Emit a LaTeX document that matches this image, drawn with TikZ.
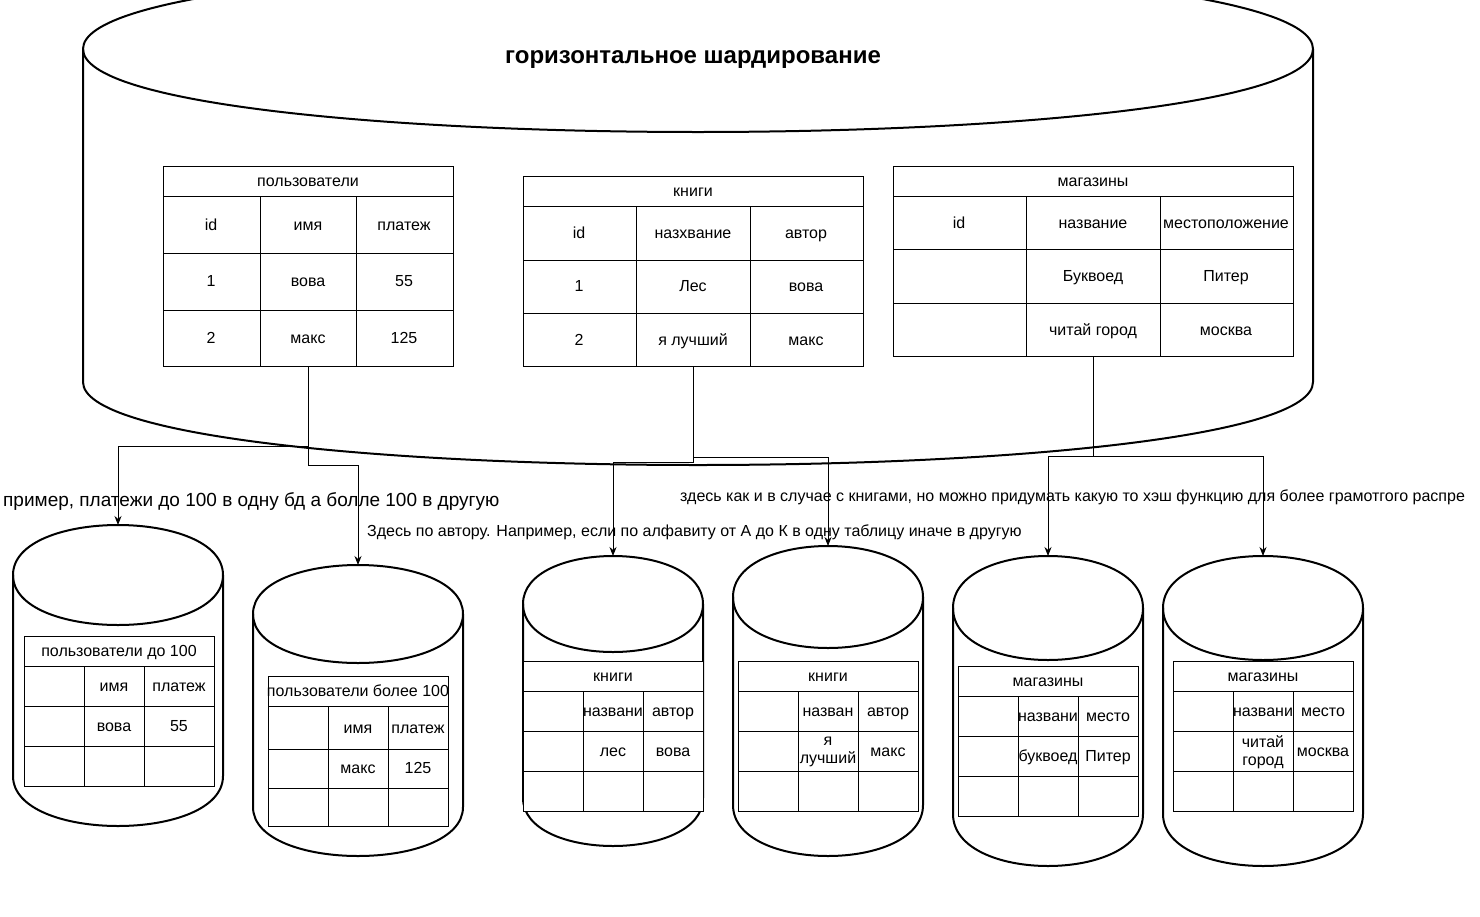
\documentclass[tikz,border=0pt]{standalone}
\usepackage{fontspec}
\setmainfont{Liberation Sans}
\usetikzlibrary{arrows.meta}

\tikzset{
  cyl/.style={draw=black, line width=2pt, fill=white},
  tbl/.style={draw=black, line width=1pt, fill=white, inner sep=0pt},
  grid/.style={draw=black, line width=1pt},
  cell/.style={font=\fontsize{16}{18}\selectfont, inner sep=0pt, align=center, text height=12.4pt, text depth=4pt},
  cellpair/.style={font=\fontsize{16}{18}\selectfont, inner sep=0pt, align=center},
  note/.style={font=\fontsize{16}{18}\selectfont, inner sep=0pt, text height=12.4pt, text depth=4pt},
  link/.style={draw=black, line width=1pt, -{Stealth[length=9pt,width=7pt]}}
}

% cylinder: centre x, top y, bottom y, half width, cap height
\newcommand{\dbshape}[5]{%
  \filldraw[cyl] (#1-#4,#2+#5) .. controls (#1-#4,#2-#5/3) and (#1+#4,#2-#5/3) .. (#1+#4,#2+#5)
    -- (#1+#4,#3-#5) .. controls (#1+#4,#3+#5/3) and (#1-#4,#3+#5/3) .. (#1-#4,#3-#5) -- cycle;
  \draw[cyl, fill=none] (#1-#4,#2+#5) .. controls (#1-#4,#2+7*#5/3) and (#1+#4,#2+7*#5/3) .. (#1+#4,#2+#5);
}

\begin{document}
\begin{tikzpicture}[x=1pt, y=-1pt]
  \useasboundingbox (0,0) rectangle (1480,916);

  % big database
  \dbshape{698}{-34}{465}{615}{83}
  \node[inner sep=0pt, text height=17pt, text depth=5pt, font=\fontsize{24}{28}\selectfont\bfseries] (title) at (693,57) {горизонтальное шардирование};

  % users
  \node[tbl, minimum width=290pt, minimum height=200pt] (users) at (308,266) {};
  \draw[grid] (163,196) -- (453,196) (163,253) -- (453,253) (163,310) -- (453,310)
              (260,196) -- (260,366) (356,196) -- (356,366);
  \node[cell] (usersh) at (308,182) {пользователи};
  \node[cell] (u11) at (211,226) {id};
  \node[cell] (u12) at (308,226) {имя};
  \node[cell] (u13) at (404,226) {платеж};
  \node[cell] (u21) at (211,282) {1};
  \node[cell] (u22) at (308,282) {вова};
  \node[cell] (u23) at (404,282) {55};
  \node[cell] (u31) at (211,339) {2};
  \node[cell] (u32) at (308,339) {макс};
  \node[cell] (u33) at (404,339) {125};

  % books
  \node[tbl, minimum width=340pt, minimum height=190pt] (books) at (693,271) {};
  \draw[grid] (523,206) -- (863,206) (523,260) -- (863,260) (523,313) -- (863,313)
              (636,206) -- (636,366) (750,206) -- (750,366);
  \node[cell] (booksh) at (693,192) {книги};
  \node[cell] (b11) at (579,234) {id};
  \node[cell] (b12) at (693,234) {назхвание};
  \node[cell] (b13) at (806,234) {автор};
  \node[cell] (b21) at (579,287) {1};
  \node[cell] (b22) at (693,287) {Лес};
  \node[cell] (b23) at (806,287) {вова};
  \node[cell] (b31) at (579,341) {2};
  \node[cell] (b32) at (693,341) {я лучший};
  \node[cell] (b33) at (806,341) {макс};

  % shops
  \node[tbl, minimum width=400pt, minimum height=190pt] (shops) at (1093,261) {};
  \draw[grid] (893,196) -- (1293,196) (893,249) -- (1293,249) (893,303) -- (1293,303)
              (1026,196) -- (1026,356) (1160,196) -- (1160,356);
  \node[cell] (shopsh) at (1093,182) {магазины};
  \node[cell] (s11) at (959,224) {id};
  \node[cell] (s12) at (1093,224) {название};
  \node[cell] (s13) at (1226,224) {местоположение};
  \node[cell] (s22) at (1093,277) {Буквоед};
  \node[cell] (s23) at (1226,277) {Питер};
  \node[cell] (s32) at (1093,331) {читай город};
  \node[cell] (s33) at (1226,331) {москва};

  % shard databases
  \dbshape{118}{525}{826}{105}{50}
  \dbshape{358}{565}{856}{105}{49}
  \dbshape{613}{556}{846}{90}{48}
  \dbshape{828}{546}{856}{95}{51}
  \dbshape{1048}{556}{866}{95}{52}
  \dbshape{1263}{556}{866}{100}{52}
  \coordinate (shard1) at (118,525);
  \coordinate (shard2) at (358,565);
  \coordinate (shard3) at (613,556);
  \coordinate (shard4) at (828,546);
  \coordinate (shard5) at (1048,556);
  \coordinate (shard6) at (1263,556);

  % users up to 100
  \node[tbl, minimum width=190pt, minimum height=150pt] (usersA) at (119,711) {};
  \draw[grid] (24,666) -- (214,666) (24,706) -- (214,706) (24,746) -- (214,746)
              (84,666) -- (84,786) (144,666) -- (144,786);
  \node[cell] (usersAh) at (119,652) {пользователи до 100};
  \node[cell] (ua12) at (114,687) {имя};
  \node[cell] (ua13) at (179,687) {платеж};
  \node[cell] (ua22) at (114,727) {вова};
  \node[cell] (ua23) at (179,727) {55};

  % users over 100
  \node[tbl, minimum width=180pt, minimum height=150pt] (usersB) at (358,751) {};
  \draw[grid] (268,706) -- (448,706) (268,749) -- (448,749) (268,788) -- (448,788)
              (328,706) -- (328,826) (388,706) -- (388,826);
  \node[cell] (usersBh) at (358,692) {пользователи более 100};
  \node[cell] (ub12) at (358,729) {имя};
  \node[cell] (ub13) at (418,729) {платеж};
  \node[cell] (ub22) at (358,769) {макс};
  \node[cell] (ub23) at (418,769) {125};

  % books, first shard
  \node[tbl, minimum width=180pt, minimum height=150pt] (booksA) at (613,736) {};
  \draw[grid] (523,691) -- (703,691) (523,731) -- (703,731) (523,771) -- (703,771)
              (583,691) -- (583,811) (643,691) -- (643,811);
  \node[cell] (booksAh) at (613,677) {книги};
  \node[cell] (ba12) at (613,712) {названи};
  \node[cell] (ba13) at (673,712) {автор};
  \node[cell] (ba22) at (613,752) {лес};
  \node[cell] (ba23) at (673,752) {вова};

  % books, second shard
  \node[tbl, minimum width=180pt, minimum height=150pt] (booksB) at (828,736) {};
  \draw[grid] (738,691) -- (918,691) (738,731) -- (918,731) (738,771) -- (918,771)
              (798,691) -- (798,811) (858,691) -- (858,811);
  \node[cell] (booksBh) at (828,677) {книги};
  \node[cell] (bb12) at (828,712) {назван};
  \node[cell] (bb13) at (888,712) {автор};
  \node[cellpair] (bb22) at (828,752) {я\\лучший};
  \node[cell] (bb23) at (888,752) {макс};

  % shops, first shard
  \node[tbl, minimum width=180pt, minimum height=150pt] (shopsA) at (1048,741) {};
  \draw[grid] (958,696) -- (1138,696) (958,736) -- (1138,736) (958,776) -- (1138,776)
              (1018,696) -- (1018,816) (1078,696) -- (1078,816);
  \node[cell] (shopsAh) at (1048,682) {магазины};
  \node[cell] (sa12) at (1048,717) {названи};
  \node[cell] (sa13) at (1108,717) {место};
  \node[cell] (sa22) at (1048,757) {буквоед};
  \node[cell] (sa23) at (1108,757) {Питер};

  % shops, second shard
  \node[tbl, minimum width=180pt, minimum height=150pt] (shopsB) at (1263,736) {};
  \draw[grid] (1173,691) -- (1353,691) (1173,731) -- (1353,731) (1173,771) -- (1353,771)
              (1233,691) -- (1233,811) (1293,691) -- (1293,811);
  \node[cell] (shopsBh) at (1263,677) {магазины};
  \node[cell] (sb12) at (1263,712) {названи};
  \node[cell] (sb13) at (1323,712) {место};
  \node[cellpair] (sb22) at (1263,752) {читай\\город};
  \node[cell] (sb23) at (1323,752) {москва};

  % splitting
  \draw[link] (users.south) -- ++(0,80) -| (shard1);
  \draw[link] (users.south) -- ++(0,99) -| (shard2);
  \draw[link] (books.south) -- ++(0,96) -| (shard3);
  \draw[link] (books.south) -- ++(0,91) -| (shard4);
  \draw[link] (shops.south) -- ++(0,100) -| (shard5);
  \draw[link] (shops.south) -- ++(0,100) -| (shard6);

  % notes
  \node[note, font=\fontsize{19}{22}\selectfont, text height=14.5pt, text depth=4.5pt, anchor=west] (noteA) at (3,501)
    {пример, платежи до 100 в одну бд а болле 100 в другую};
  \node[note, anchor=west] (noteB) at (367,532)
    {Здесь по автору. Например, если по алфавиту от А до К в одну таблицу иначе в другую};
  \node[note, anchor=west] (noteC) at (680,497)
    {здесь как и в случае с книгами, но можно придумать какую то хэш функцию для более грамотгого распре};
\end{tikzpicture}
\end{document}
